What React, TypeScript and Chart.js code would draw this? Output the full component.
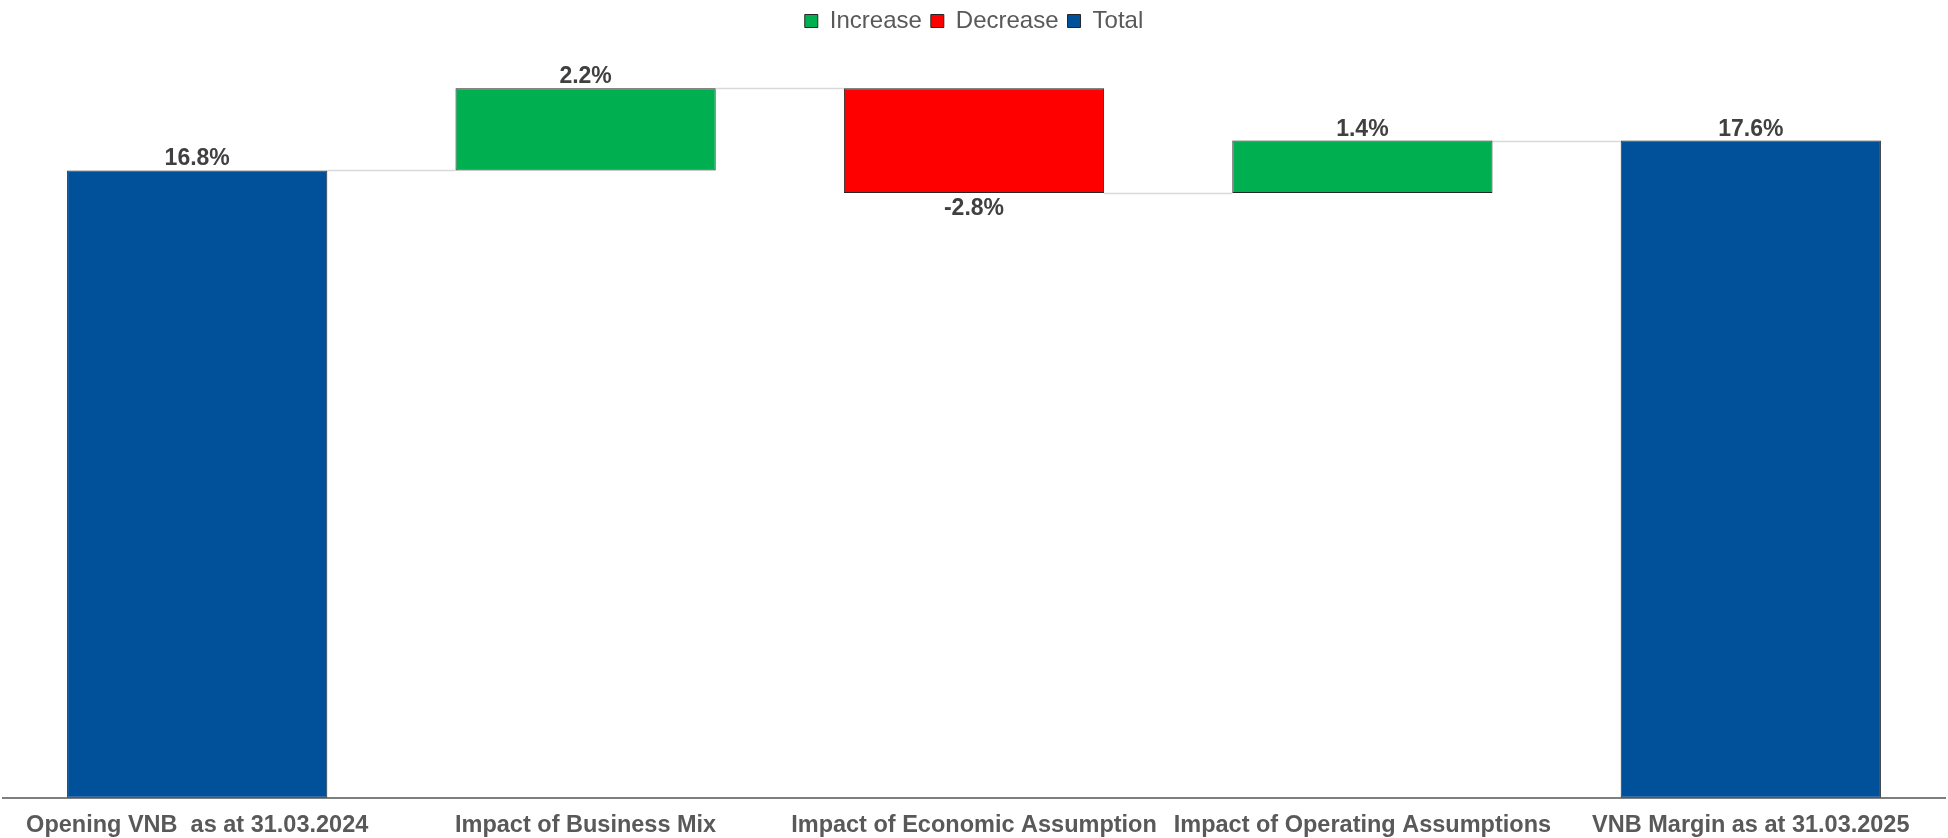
import React, { useEffect, useRef } from 'react';
import { Chart, registerables } from 'chart.js';

Chart.register(...registerables);

const categories = [
  'Opening VNB  as at 31.03.2024',
  'Impact of Business Mix',
  'Impact of Economic Assumption',
  'Impact of Operating Assumptions',
  'VNB Margin as at 31.03.2025',
];
const changes = [16.8, 2.2, -2.8, 1.4, 17.6];
const kinds = ['total', 'increase', 'decrease', 'increase', 'total'];
const valueLabels = ['16.8%', '2.2%', '-2.8%', '1.4%', '17.6%'];
const seriesKeys = ['increase', 'decrease', 'total'];
const seriesNames = ['Increase', 'Decrease', 'Total'];
const seriesColors = ['#00b050', '#ff0000', '#00519a'];
const yMin = 0;
const yMax = 20;

function buildRanges(): [number, number][] {
  let running = 0;
  return changes.map((v, i) => {
    if (kinds[i] === 'total') {
      running = v;
      return [0, v] as [number, number];
    }
    const start = running;
    running = +(running + v).toFixed(4);
    return [start, running] as [number, number];
  });
}

const FONT = "'Liberation Sans', Arial, sans-serif";

export default function App() {
  const ref = useRef<HTMLCanvasElement | null>(null);

  useEffect(() => {
    document.body.style.margin = '0';
    const canvas = ref.current;
    if (!canvas) return;
    const ranges = buildRanges();

    const datasets = seriesKeys.map((key, s) => ({
      label: seriesNames[s],
      data: categories.map((_, i) => (kinds[i] === key ? ranges[i] : null)),
      backgroundColor: seriesColors[s],
      borderColor: '#262626',
      borderWidth: 1,
      borderSkipped: false,
      grouped: false,
      categoryPercentage: 1,
      barPercentage: 0.67,
    }));

    const getBar = (chart: any, i: number) => {
      const d = seriesKeys.indexOf(kinds[i]);
      return chart.getDatasetMeta(d).data[i];
    };

    const legendSpacer = {
      id: 'legendSpacer',
      beforeInit(chart: any) {
        const legend = chart.legend;
        if (!legend) return;
        const origFit = legend.fit;
        legend.fit = function () {
          origFit.call(this);
          this.height += 8;
        };
      },
    };

    const waterfallPlugin = {
      id: 'waterfallExtras',
      beforeDatasetsDraw(chart: any) {
        const ctx = chart.ctx;
        const y = chart.scales.y;
        ctx.save();
        ctx.strokeStyle = '#d9d9d9';
        ctx.lineWidth = 1.5;
        for (let i = 0; i < categories.length - 1; i++) {
          const a = getBar(chart, i);
          const b = getBar(chart, i + 1);
          if (!a || !b) continue;
          const level = ranges[i][1];
          const py = Math.round(y.getPixelForValue(level)) + 0.5;
          ctx.beginPath();
          ctx.moveTo(a.x + a.width / 2, py);
          ctx.lineTo(b.x - b.width / 2, py);
          ctx.stroke();
        }
        ctx.restore();
      },
      afterDatasetsDraw(chart: any) {
        const ctx = chart.ctx;
        const y = chart.scales.y;
        ctx.save();
        ctx.fillStyle = '#404040';
        ctx.font = `bold 23px ${FONT}`;
        ctx.textAlign = 'center';
        for (let i = 0; i < categories.length; i++) {
          const bar = getBar(chart, i);
          if (!bar) continue;
          const lo = Math.min(ranges[i][0], ranges[i][1]);
          const hi = Math.max(ranges[i][0], ranges[i][1]);
          if (changes[i] < 0) {
            ctx.textBaseline = 'top';
            ctx.fillText(valueLabels[i], bar.x, y.getPixelForValue(lo) + 4);
          } else {
            ctx.textBaseline = 'alphabetic';
            ctx.fillText(valueLabels[i], bar.x, y.getPixelForValue(hi) - 5);
          }
        }
        ctx.restore();
      },
    };

    const chart = new Chart(canvas, {
      type: 'bar',
      data: { labels: categories, datasets: datasets as any },
      options: {
        animation: false,
        responsive: false,
        maintainAspectRatio: false,
        layout: { padding: { left: 3, right: 3, top: 0, bottom: -16 } },
        plugins: {
          legend: {
            display: true,
            position: 'top',
            labels: {
              boxWidth: 13,
              boxHeight: 13,
              padding: 9,
              color: '#595959',
              font: { family: FONT, size: 24 },
            },
          },
          tooltip: { enabled: false },
        },
        scales: {
          x: {
            grid: { display: false, drawTicks: false },
            border: { display: true, color: '#7f7f7f', width: 2 },
            ticks: {
              color: '#595959',
              padding: 14,
              maxRotation: 0,
              autoSkip: false,
              font: { family: FONT, size: 23.5, weight: 'bold' },
            },
          },
          y: {
            display: false,
            min: yMin,
            max: yMax,
          },
        },
      },
      plugins: [legendSpacer, waterfallPlugin],
    });
    return () => chart.destroy();
  }, []);

  return (
    <div style={{ position: 'absolute', left: 0, top: 0, width: 1948, height: 838 }}>
      <canvas ref={ref} width={1948} height={838} style={{ width: 1948, height: 838, display: 'block' }} />
    </div>
  );
}
